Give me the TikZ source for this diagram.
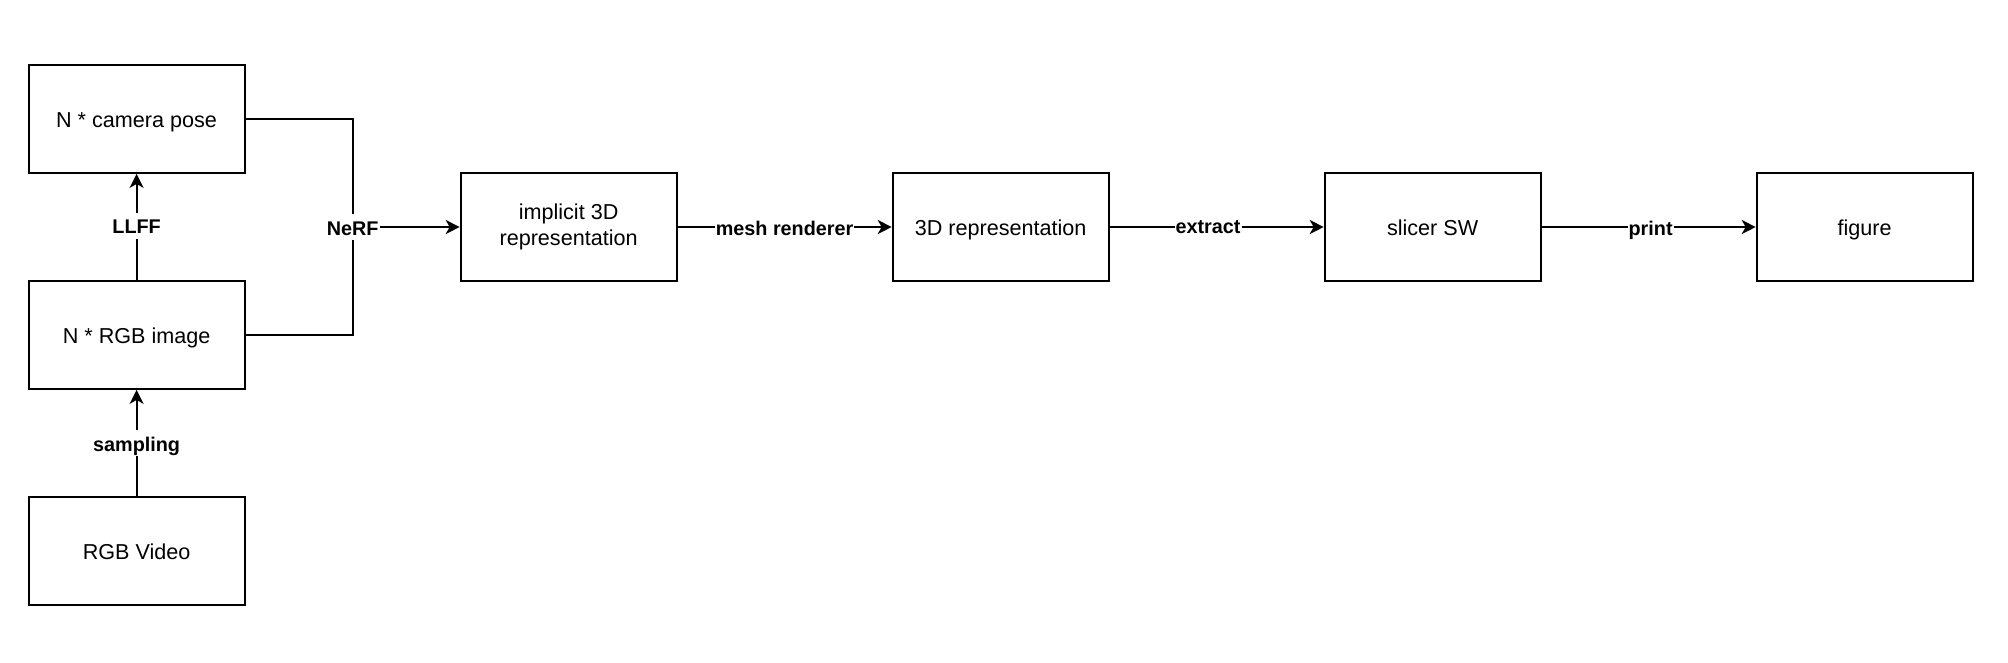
\documentclass[tikz,border=0pt]{standalone}
\usepackage{fontspec}
\setmainfont{Liberation Sans}
\usetikzlibrary{arrows.meta}
\begin{document}
\begin{tikzpicture}[x=1pt,y=-1pt,
  box/.style={draw=black, line width=1.8pt, minimum width=216pt, minimum height=108pt, inner sep=0pt, align=center, font=\fontsize{21.6pt}{25.9pt}\selectfont},
  onebox/.style={box, text height=20.5pt, text depth=4.5pt},
  lbl/.style={fill=white, inner sep=1pt, text height=20pt, text depth=4pt, font=\bfseries\fontsize{19.8pt}{23pt}\selectfont},
  conn/.style={draw=black, line width=1.8pt, -{Stealth[length=14pt,width=14pt,inset=4pt]}},
  plain/.style={draw=black, line width=1.8pt}]
\useasboundingbox (0,0) rectangle (2008,662);
\node[onebox] (cam) at (136.6,119) {N * camera pose};
\node[onebox] (img) at (136.6,335) {N * RGB image};
\node[onebox] (vid) at (136.6,551) {RGB Video};
\node[box] (imp) at (568.6,227) {implicit 3D\\representation};
\node[onebox] (rep) at (1000.6,227) {3D representation};
\node[onebox] (sli) at (1432.6,227) {slicer SW};
\node[onebox] (fig) at (1864.6,227) {figure};
\coordinate (j) at (352.7,227);
\draw[plain] (cam.east) -| (j);
\draw[plain] (img.east) -| (j);
\draw[conn] (j) -- (imp.west);
\node[lbl] (nerf) at (j) {NeRF};
\draw[conn] (img) -- node[lbl, yshift=1.3pt] (llff) {LLFF} (cam);
\draw[conn] (vid) -- node[lbl] (samp) {sampling} (img);
\draw[conn] (imp) -- node[lbl] (mesh) {mesh renderer} (rep);
\draw[conn] (rep) -- node[lbl, pos=0.46, yshift=1.3pt] (extr) {extract} (sli);
\draw[conn] (sli) -- node[lbl, xshift=2pt] (prt) {print} (fig);
\end{tikzpicture}
\end{document}
